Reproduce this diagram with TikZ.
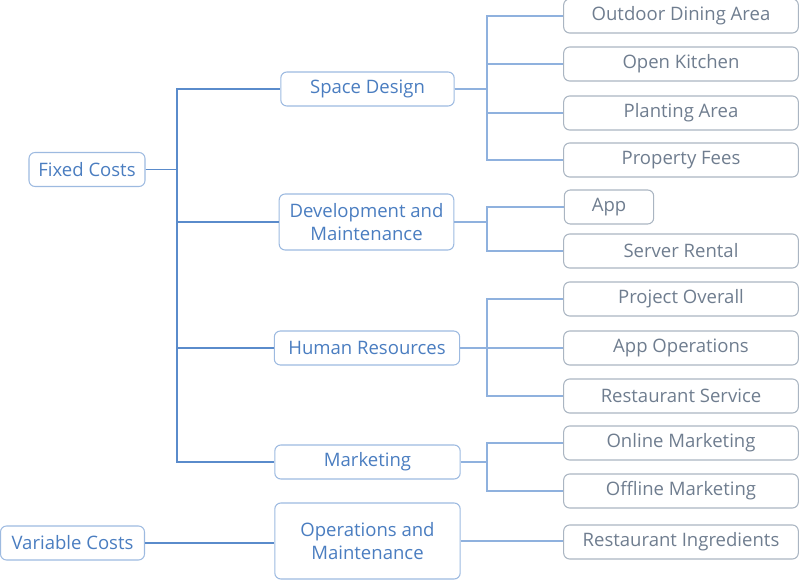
\documentclass[tikz,border=0pt]{standalone}
\usepackage{fontspec}
\setmainfont{Open Sans}
\definecolor{mainblue}{HTML}{4A7DC0}
\definecolor{mainedge}{HTML}{9DBAE0}
\definecolor{leaftext}{HTML}{6F7D8F}
\definecolor{leafedge}{HTML}{AAB5C2}
\definecolor{trunkline}{HTML}{5A8BCB}
\definecolor{leafline}{HTML}{8FB1DE}
\begin{document}
\begin{tikzpicture}
    [
        x = 0.75pt, y = -0.75pt,
        font = \fontsize{13.9}{17.3}\selectfont,
        mainbox/.style = {draw = mainedge, text = mainblue, rounded corners = 4.5pt,
                line width = 0.8pt, align = center, minimum height = 25.5pt, inner sep = 2pt},
        leafbox/.style = {draw = leafedge, text = leaftext, rounded corners = 4.5pt,
                line width = 0.8pt, minimum height = 25.5pt, minimum width = 176pt, inner sep = 2pt},
        trunk/.style = {draw = trunkline, line width = 0.9pt},
        twig/.style = {draw = leafline, line width = 0.8pt},
    ]

    \useasboundingbox (0,0) rectangle (800,580);

    % roots
    \node[mainbox, minimum width = 87pt] (fixed) at (87,169.5) {Fixed Costs};
    \node[mainbox, minimum width = 108pt] (variable) at (72.5,543) {Variable Costs};

    % second level
    \node[mainbox, minimum width = 130pt] (space) at (367.5,89) {Space Design};
    \node[mainbox, minimum width = 131pt, minimum height = 42pt] (dev) at (366.5,222) {Development and\\Maintenance};
    \node[mainbox, minimum width = 139pt] (hr) at (367,348) {Human Resources};
    \node[mainbox, minimum width = 139pt] (mkt) at (367.5,462) {Marketing};
    \node[mainbox, minimum width = 139pt, minimum height = 57pt] (ops) at (367.5,541) {Operations and\\Maintenance};

    % leaves
    \node[leafbox] (outdoor) at (681,16) {Outdoor Dining Area};
    \node[leafbox] (kitchen) at (681,64) {Open Kitchen};
    \node[leafbox] (planting) at (681,113) {Planting Area};
    \node[leafbox] (fees) at (681,160) {Property Fees};
    \node[leafbox, minimum width = 67pt] (app) at (609,207) {App};
    \node[leafbox] (server) at (681,251) {Server Rental};
    \node[leafbox] (overall) at (681,299) {Project Overall};
    \node[leafbox] (appops) at (681,348) {App Operations};
    \node[leafbox] (service) at (681,396) {Restaurant Service};
    \node[leafbox] (online) at (681,443) {Online Marketing};
    \node[leafbox] (offline) at (681,491) {Offline Marketing};
    \node[leafbox] (ingredients) at (681,542) {Restaurant Ingredients};

    \coordinate (stem) at (177,0);
    \coordinate (bus) at (487,0);

    \foreach \c in {space,dev,hr,mkt}{
            \draw[trunk] (fixed.east) -- (fixed.east -| stem) |- (\c.west);
        }
    \draw[trunk] (variable.east) -- (variable.east -| ops.west);

    \foreach \p/\c in {space/outdoor,space/kitchen,space/planting,space/fees,
            dev/app,dev/server,hr/overall,hr/appops,hr/service,mkt/online,mkt/offline}{
            \draw[twig] (\p.east) -- (\p.east -| bus) |- (\c.west);
        }
    \draw[twig] (ops.east) -- (ops.east -| ingredients.west);

\end{tikzpicture}
\end{document}
